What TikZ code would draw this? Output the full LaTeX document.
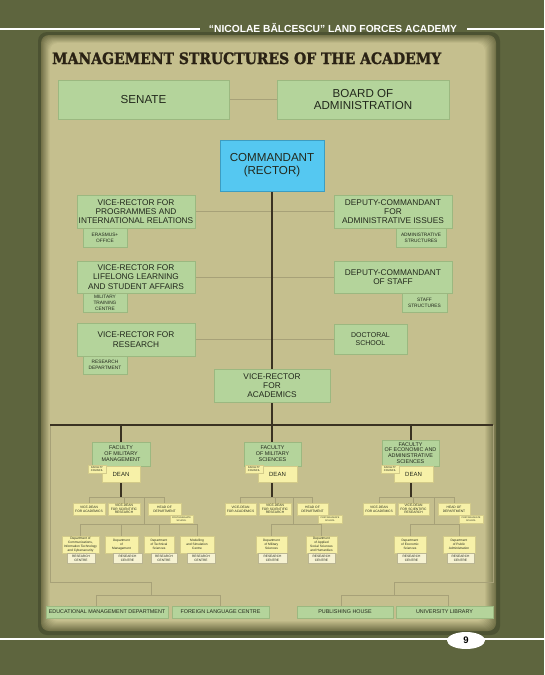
\documentclass[tikz,border=0pt]{standalone}
\usepackage{graphicx}
\usepackage{fontspec}
\setmainfont{Liberation Sans}
\newfontfamily\titlefont{DejaVu Serif}[BoldFeatures={FakeBold=1.6}]
\usetikzlibrary{shapes.geometric,backgrounds}
\definecolor{bgolive}{HTML}{5E653E}
\definecolor{shadowc}{HTML}{4C5232}
\definecolor{paneledge}{HTML}{737249}
\definecolor{panelc}{HTML}{C5BF8E}
\definecolor{gfill}{HTML}{B4D49B}
\definecolor{gdraw}{HTML}{9BB880}
\definecolor{bfill}{HTML}{55C8F1}
\definecolor{bdraw}{HTML}{3C9DC2}
\definecolor{yfill}{HTML}{F7F1A8}
\definecolor{ydraw}{HTML}{D3CB8A}
\definecolor{wfill}{HTML}{F6F2D2}
\definecolor{wdraw}{HTML}{BAB592}
\definecolor{lline}{HTML}{A7A178}
\definecolor{dline}{HTML}{3A3222}
\definecolor{txtc}{HTML}{22281C}
\definecolor{titlec}{HTML}{2A2214}
\newcommand\mkbox[7]{%
  \pgfmathsetmacro\mbx{(#2+#4)/2}%
  \pgfmathsetmacro\mby{(#3+#5)/2}%
  \pgfmathsetmacro\mbw{#4-#2}%
  \pgfmathsetmacro\mbh{#5-#3}%
  \node[#6, minimum width=\mbw pt, minimum height=\mbh pt] (#1) at (\mbx,\mby) {#7};}
\begin{document}
\begin{tikzpicture}[x=1pt,y=-1pt,
  box/.style={inner sep=0pt, outer sep=0pt, align=center, text=txtc, line width=0.7pt},
  gbox/.style={box, fill=gfill, draw=gdraw},
  bbox/.style={box, fill=bfill, draw=bdraw, line width=1pt},
  ybox/.style={box, fill=yfill, draw=ydraw},
  wbox/.style={box, fill=wfill, draw=wdraw},
  fA/.style={font=\fontsize{11.6}{12.9}\selectfont},
  fB/.style={font=\fontsize{8.3}{9.3}\selectfont},
  fC/.style={font=\fontsize{7}{7.4}\selectfont},
  fD/.style={font=\fontsize{4.8}{5.9}\selectfont},
  fE/.style={font=\fontsize{5.4}{5.9}\selectfont},
  fDean/.style={font=\fontsize{6}{7}\selectfont},
  fG/.style={font=\fontsize{3.3}{3.8}\selectfont},
  fH/.style={font=\fontsize{3.2}{4.2}\selectfont},
  fI/.style={font=\fontsize{2.7}{3}\selectfont},
  fP/.style={font=\fontsize{2.3}{2.7}\selectfont},
  fJ/.style={font=\fontsize{5.4}{6}\selectfont},
  lite/.style={draw=lline, line width=0.9pt},
  dark/.style={draw=dline, line width=1.4pt},
  wline/.style={draw=white, line width=1.8pt}]
\useasboundingbox (0,0) rectangle (544,675);
% ---------- header / footer text
\node[anchor=base, inner sep=0pt, text=white] (hdr) at (333,32.3)
  {\resizebox{248pt}{!}{\bfseries “NICOLAE BĂLCESCU” LAND FORCES ACADEMY}};
\node[anchor=base west, inner sep=0pt, text=titlec] (title) at (52,64)
  {\resizebox{389pt}{11.7pt}{\titlefont\bfseries MANAGEMENT STRUCTURES OF THE ACADEMY}};
% ---------- top level
\mkbox{senate}{58}{80}{229}{119}{gbox,fA}{SENATE}
\mkbox{board}{277}{80}{449}{119}{gbox,fA}{BOARD OF\\ADMINISTRATION}
\mkbox{cmd}{220}{140}{324}{191}{bbox,fA}{COMMANDANT\\(RECTOR)}
\mkbox{vrp}{77}{195}{195}{228}{gbox,fB}{VICE-RECTOR FOR\\PROGRAMMES AND\\INTERNATIONAL RELATIONS}
\mkbox{erasmus}{83}{228}{127}{247}{gbox,fD}{ERASMUS+\\OFFICE}
\mkbox{dca}{334}{195}{452}{228}{gbox,fB}{DEPUTY-COMMANDANT\\FOR\\ADMINISTRATIVE ISSUES}
\mkbox{adm}{396}{228}{446}{247}{gbox,fD}{ADMINISTRATIVE\\STRUCTURES}
\mkbox{vrl}{77}{261}{195}{293}{gbox,fB}{VICE-RECTOR FOR\\LIFELONG LEARNING\\AND STUDENT AFFAIRS}
\mkbox{mtc}{83}{293}{127}{312}{gbox,fD}{MILITARY\\TRAINING\\CENTRE}
\mkbox{dcs}{334}{261}{452}{293}{gbox,fB}{DEPUTY-COMMANDANT\\OF STAFF}
\mkbox{staff}{402}{293}{447}{312}{gbox,fD}{STAFF\\STRUCTURES}
\mkbox{vrr}{77}{323}{195}{356}{gbox,fB}{VICE-RECTOR FOR\\RESEARCH}
\mkbox{rdep}{83}{356}{127}{374}{gbox,fD}{RESEARCH\\DEPARTMENT}
\mkbox{doc}{334}{324}{407}{354}{gbox,fC}{DOCTORAL\\SCHOOL}
\mkbox{vra}{214}{369}{330}{402}{gbox,fB}{VICE-RECTOR\\FOR\\ACADEMICS}
% ---------- faculties
\mkbox{f1}{92}{442}{150}{466}{gbox,fE}{FACULTY\\OF MILITARY\\MANAGEMENT}
\mkbox{d1}{102}{466}{140}{482}{ybox,fDean}{DEAN}
\mkbox{c1}{88}{465}{106}{473}{ybox,fI}{FACULTY\\COUNCIL}
\mkbox{f2}{244}{442}{301}{466}{gbox,fE}{FACULTY\\OF MILITARY\\SCIENCES}
\mkbox{d2}{258}{466}{297}{482}{ybox,fDean}{DEAN}
\mkbox{c2}{245}{465}{263}{473}{ybox,fI}{FACULTY\\COUNCIL}
\mkbox{f3}{382}{440}{439}{466}{gbox,fE}{FACULTY\\OF ECONOMIC AND\\ADMINISTRATIVE\\SCIENCES}
\mkbox{d3}{394}{466}{433}{482}{ybox,fDean}{DEAN}
\mkbox{c3}{381}{465}{399}{473}{ybox,fI}{FACULTY\\COUNCIL}
% vice-dean rows
\mkbox{va1}{73}{503}{105}{515}{ybox,fG}{VICE-DEAN\\FOR ACADEMICS}
\mkbox{vs1}{108}{503}{140}{515}{ybox,fG}{VICE-DEAN\\FOR SCIENTIFIC\\RESEARCH}
\mkbox{h1}{148}{503}{181}{515}{ybox,fG}{HEAD OF\\DEPARTMENT}
\mkbox{p1}{170}{515}{193}{523}{ybox,fP}{POSTGRADUATE\\SCHOOL}
\mkbox{va2}{225}{503}{256}{515}{ybox,fG}{VICE-DEAN\\FOR ACADEMICS}
\mkbox{vs2}{259}{503}{291}{515}{ybox,fG}{VICE-DEAN\\FOR SCIENTIFIC\\RESEARCH}
\mkbox{h2}{297}{503}{328}{515}{ybox,fG}{HEAD OF\\DEPARTMENT}
\mkbox{p2}{318}{515}{342}{523}{ybox,fP}{POSTGRADUATE\\SCHOOL}
\mkbox{va3}{363}{503}{395}{515}{ybox,fG}{VICE-DEAN\\FOR ACADEMICS}
\mkbox{vs3}{398}{503}{429}{515}{ybox,fG}{VICE-DEAN\\FOR SCIENTIFIC\\RESEARCH}
\mkbox{h3}{438}{503}{470}{515}{ybox,fG}{HEAD OF\\DEPARTMENT}
\mkbox{p3}{459}{515}{483}{523}{ybox,fP}{POSTGRADUATE\\SCHOOL}
% departments
\mkbox{dp11}{62}{536}{99}{553}{ybox,fH}{Department of\\Communications,\\Information Technology\\and Cybersecurity}
\mkbox{rc11}{67}{553}{95}{563}{wbox,fH}{RESEARCH\\CENTRE}
\mkbox{dp12}{105}{536}{138}{553}{ybox,fH}{Department\\of\\Management}
\mkbox{rc12}{113}{553}{142}{563}{wbox,fH}{RESEARCH\\CENTRE}
\mkbox{dp13}{144}{536}{174}{553}{ybox,fH}{Department\\of Technical\\Sciences}
\mkbox{rc13}{151}{553}{177}{563}{wbox,fH}{RESEARCH\\CENTRE}
\mkbox{dp14}{180}{536}{214}{553}{ybox,fH}{Modelling\\and Simulation\\Centre}
\mkbox{rc14}{187}{553}{215}{563}{wbox,fH}{RESEARCH\\CENTRE}
\mkbox{dp21}{256}{536}{287}{553}{ybox,fH}{Department\\of Military\\Sciences}
\mkbox{rc21}{258}{553}{287}{563}{wbox,fH}{RESEARCH\\CENTRE}
\mkbox{dp22}{306}{536}{337}{553}{ybox,fH}{Department\\of Applied\\Social Sciences\\and Humanities}
\mkbox{rc22}{308}{553}{335}{563}{wbox,fH}{RESEARCH\\CENTRE}
\mkbox{dp31}{394}{536}{426}{553}{ybox,fH}{Department\\of Economic\\Sciences}
\mkbox{rc31}{397}{553}{426}{563}{wbox,fH}{RESEARCH\\CENTRE}
\mkbox{dp32}{443}{536}{475}{553}{ybox,fH}{Department\\of Public\\Administration}
\mkbox{rc32}{447}{553}{474}{563}{wbox,fH}{RESEARCH\\CENTRE}
% bottom row
\mkbox{edu}{46}{606}{168}{618}{gbox,fJ}{EDUCATIONAL MANAGEMENT DEPARTMENT}
\mkbox{flc}{172}{606}{269}{618}{gbox,fJ}{FOREIGN LANGUAGE CENTRE}
\mkbox{pub}{297}{606}{393}{618}{gbox,fJ}{PUBLISHING HOUSE}
\mkbox{lib}{396}{606}{493}{618}{gbox,fJ}{UNIVERSITY LIBRARY}
% page number
\node[ellipse, fill=white, minimum width=38pt, minimum height=17pt, inner sep=0pt,
  font=\bfseries\fontsize{9.5}{10}\selectfont, text=black] (pg) at (466,640.5) {9};
% coordinates
\coordinate (hub) at (272,425);
\coordinate (hubL) at (50,425);
\coordinate (hubR) at (493,425);
\coordinate (r1) at (121,497);
\coordinate (r2) at (272,497);
\coordinate (r3) at (411,497);
\coordinate (s1) at (144,497);
\coordinate (s2) at (293,497);
\coordinate (s3) at (434,497);
\coordinate (t1) at (144,524);
\coordinate (t2) at (293,524);
\coordinate (t3) at (434,524);
\coordinate (qL) at (50,582);
\coordinate (qLm) at (151,582);
\coordinate (jL) at (151,595);
\coordinate (jL1) at (96,595);
\coordinate (jL2) at (220,595);
\coordinate (qR) at (493,582);
\coordinate (qRm) at (394,582);
\coordinate (jR) at (394,595);
\coordinate (jR1) at (341,595);
\coordinate (jR2) at (448,595);
\coordinate (hl0) at (0,29);
\coordinate (hl1) at (200,29);
\coordinate (hl2) at (467,29);
\coordinate (hl3) at (544,29);
\coordinate (fl0) at (0,639);
\coordinate (fl1) at (544,639);
\begin{pgfonlayer}{background}
  \fill[bgolive] (0,0) rectangle (544,675);
  \fill[shadowc, rounded corners=9pt] (38,32) rectangle (500,635);
  \foreach \i in {0,...,10} {
    \pgfmathtruncatemacro\pp{\i*10}
    \fill[panelc!\pp!paneledge, rounded corners=8pt]
      (41+\i*0.9, 35+\i*0.8) rectangle (496-\i*1.1, 631-\i*1.0);
  }
  \draw[wline] (hl0) -- (hl1);
  \draw[wline] (hl2) -- (hl3);
  \draw[wline] (fl0) -- (fl1);
  % light connectors, upper part
  \draw[lite] (senate.east) -- (board.west);
  \draw[lite] (vrp.east) -- (dca.west);
  \draw[lite] (vrl.east) -- (dcs.west);
  \draw[lite] (vrr.east) -- (vrr.east -| doc.west);
  % faculty rows
  \foreach \k/\first/\last in {1/dp11/dp14, 2/dp21/dp22, 3/dp31/dp32} {
    \draw[lite] (va\k.north) |- (h\k.north |- r\k) -- (h\k.north);
    \draw[lite] (vs\k.north) -- (vs\k.north |- r\k);
    \draw[lite] (s\k) -- (t\k);
    \draw[lite] (\first.north) |- (\last.north |- t\k) -- (\last.north);
  }
  \draw[lite] (dp12.north) -- (dp12.north |- t1);
  \draw[lite] (dp13.north) -- (dp13.north |- t1);
  % bottom frame
  \draw[lite] (hubL) -- (qL) -- (qLm) -- (jL);
  \draw[lite] (edu.north -| jL1) -- (jL1) -- (jL2) -- (flc.north -| jL2);
  \draw[lite] (hubR) -- (qR) -- (qRm) -- (jR);
  \draw[lite] (pub.north -| jR1) -- (jR1) -- (jR2) -- (lib.north -| jR2);
  % dark trunk
  \draw[dark] (cmd.south) -- (r2);
  \draw[dark] (hubL) -- (hubR);
  \draw[dark] (r1 |- hub) -- (r1);
  \draw[dark] (r3 |- hub) -- (r3);
\end{pgfonlayer}
\end{tikzpicture}
\end{document}
